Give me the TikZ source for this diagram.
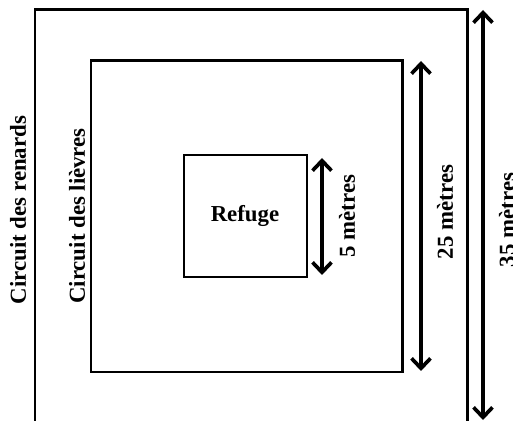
\documentclass[tikz,border=0pt]{standalone}
\usepackage{fontspec}
\setmainfont{Liberation Serif}
\usetikzlibrary{arrows.meta}
\begin{document}
\begin{tikzpicture}[x=0.02cm,y=-0.02cm,
    mur/.style={draw,line width=1.7pt},
    cote/.style={line width=2.1pt,{Straight Barb[length=0.2cm,width=0.38cm]}-{Straight Barb[length=0.2cm,width=0.38cm]}},
    etiq/.style={font=\fontsize{13}{15}\selectfont\bfseries,inner sep=0pt}]
    \useasboundingbox (0,0) rectangle (513,421);
    \clip (0,0) rectangle (513,421);
    % les trois carres
    \draw[mur] (35,10) rectangle (467,440); % circuit des renards
    \draw[mur] (91,61) rectangle (402,372); % circuit des lievres
    \draw[mur] (184,155) rectangle (307,277); % refuge

    % extremites des cotes
    \coordinate (c5h) at (322,158);
    \coordinate (c5b) at (322,275);
    \coordinate (c25h) at (421,61);
    \coordinate (c25b) at (421,371);
    \coordinate (c35h) at (483,10);
    \coordinate (c35b) at (483,420);
    \draw[cote] (c5h) -- (c5b);
    \draw[cote] (c25h) -- (c25b);
    \draw[cote] (c35h) -- (c35b);

    \node[etiq] (refuge) at (245,216) {Refuge};
    \node[etiq,rotate=90] (renards) at (18,210) {Circuit des renards};
    \node[etiq,rotate=90] (lievres) at (77,216) {Circuit des lièvres};
    \node[etiq,rotate=90] (m5) at (347,216) {5 mètres};
    \node[etiq,rotate=90] (m25) at (445,212) {25 mètres};
    \node[etiq,rotate=90] (m35) at (507,220) {35 mètres};
\end{tikzpicture}
\end{document}
